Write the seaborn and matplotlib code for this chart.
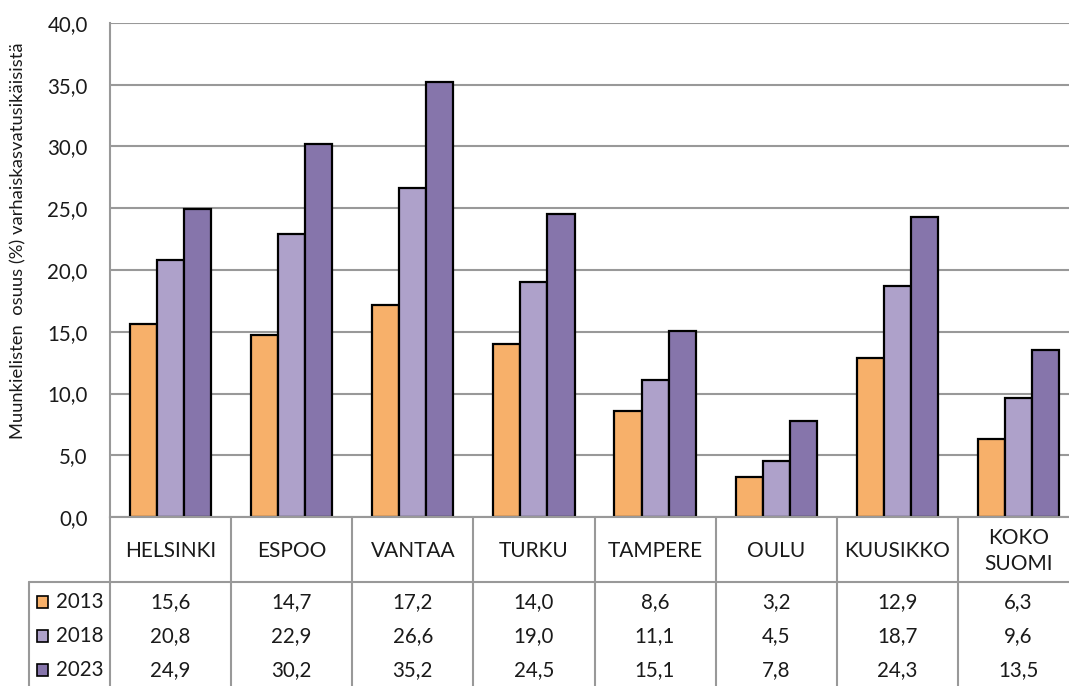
import matplotlib
matplotlib.use("Agg")
import matplotlib.pyplot as plt
import seaborn as sns
import pandas as pd
from matplotlib.transforms import blended_transform_factory
from matplotlib.lines import Line2D
from matplotlib.patches import Rectangle

categories = ["HELSINKI", "ESPOO", "VANTAA", "TURKU", "TAMPERE", "OULU", "KUUSIKKO", "KOKO\nSUOMI"]
years = ["2013", "2018", "2023"]
v2013 = [15.6, 14.7, 17.2, 14.0, 8.6, 3.2, 12.9, 6.3]
v2018 = [20.8, 22.9, 26.6, 19.0, 11.1, 4.5, 18.7, 9.6]
v2023 = [24.9, 30.2, 35.2, 24.5, 15.1, 7.8, 24.3, 13.5]
yticks = [0, 5, 10, 15, 20, 25, 30, 35, 40]
ylabel = "Muunkielisten  osuus (%) varhaiskasvatusikäisistä"
colors = ["#F7B06A", "#AEA1CA", "#8675AB"]

series = {"2013": v2013, "2018": v2018, "2023": v2023}
rows = []
for y in years:
    for c, v in zip(categories, series[y]):
        rows.append({"kunta": c, "vuosi": y, "arvo": v})
df = pd.DataFrame(rows)

def fmt(v):
    return f"{v:.1f}".replace(".", ",")

sns.set_style("white")
plt.rcParams["font.family"] = ["Lato", "DejaVu Sans"]

W, H = 1069, 686
fig = plt.figure(figsize=(W / 100, H / 100), dpi=100)
left_px, right_px, top_px, bot_px = 110, 1079, 23, 517
ax = fig.add_axes([left_px / W, 1 - bot_px / H, (right_px - left_px) / W, (bot_px - top_px) / H])

sns.barplot(data=df, x="kunta", y="arvo", hue="vuosi", order=categories, hue_order=years,
            palette=colors, edgecolor="black", linewidth=1.6, width=0.67, gap=0,
            legend=False, ax=ax, errorbar=None, saturation=1)

grid_c = "#999999"
txt_c = "#1a1a1a"
ax.set_ylim(0, 40)
ax.set_xlim(-0.5, len(categories) - 0.5)
ax.set_yticks(yticks)
ax.set_yticklabels([fmt(t) for t in yticks], fontsize=14.8, color=txt_c)
ax.tick_params(axis="y", length=0, pad=16)
ax.set_xticks([])
ax.set_xlabel("")
ax.set_ylabel("")
ax.yaxis.grid(True, color=grid_c, linewidth=1.5)
ax.set_axisbelow(True)
for s in ["top", "right"]:
    ax.spines[s].set_visible(False)
for s in ["left", "bottom"]:
    ax.spines[s].set_color(grid_c)
    ax.spines[s].set_linewidth(1.5)

fig.text(18 / W, 1 - 241 / H, ylabel, rotation=90, ha="center", va="center",
         fontsize=13.2, color=txt_c)

# data table below the plot
tr = blended_transform_factory(ax.transData, fig.transFigure)
def fy(px):
    return 1 - px / H

for i, c in enumerate(categories):
    ax.text(i, fy(551), c, transform=tr, ha="center", va="center", fontsize=15,
            color=txt_c, linespacing=1.38, clip_on=False)
row_y = [602, 636, 670]
for r, y in enumerate(years):
    for i, v in enumerate(series[y]):
        ax.text(i, fy(row_y[r]), fmt(v), transform=tr, ha="center", va="center",
                fontsize=14.8, color=txt_c, clip_on=False)
    fig.text(56 / W, fy(row_y[r]), y, ha="left", va="center", fontsize=14.8, color=txt_c)
    fig.patches.append(Rectangle((37 / W, fy(row_y[r] + 6)), 11 / W, 12 / H,
                                 transform=fig.transFigure, facecolor=colors[r],
                                 edgecolor="black", linewidth=1.2))

# table grid lines
for k in range(len(categories) + 1):
    xk = k - 0.5
    fig.add_artist(Line2D([xk, xk], [fy(517), fy(686)], transform=tr, color=grid_c, linewidth=1.5))
fig.add_artist(Line2D([29 / W, 1.0], [fy(582), fy(582)], transform=fig.transFigure,
                      color=grid_c, linewidth=1.5))
fig.add_artist(Line2D([29 / W, 29 / W], [fy(582), fy(686)], transform=fig.transFigure,
                      color=grid_c, linewidth=1.5))

fig.savefig("out.png", dpi=100, facecolor="white")
